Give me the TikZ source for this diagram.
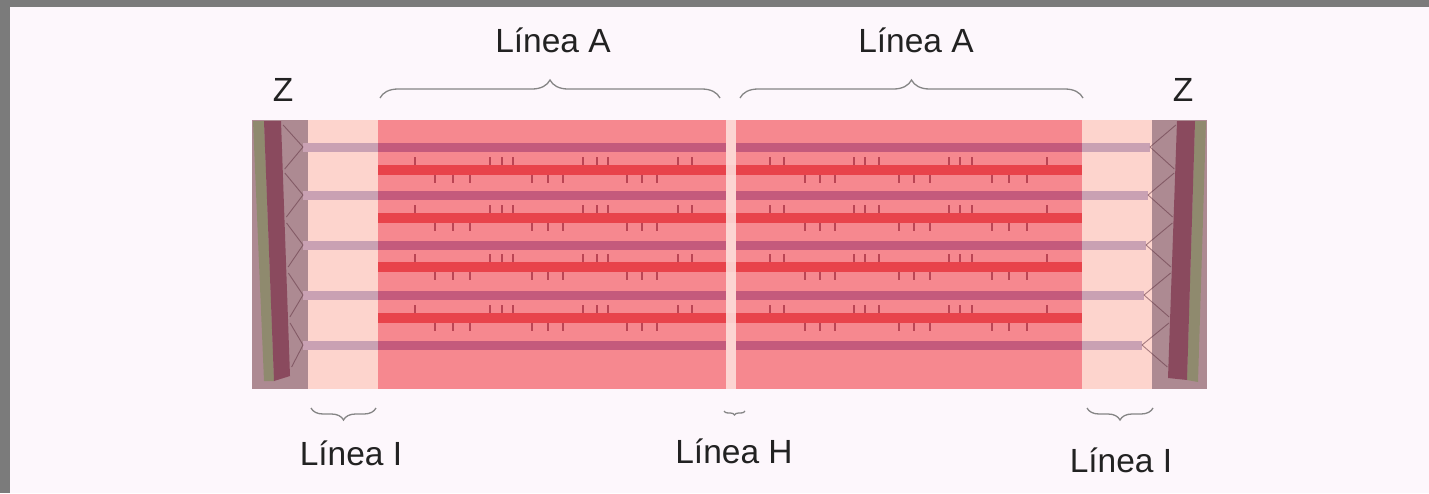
\documentclass[tikz,border=0pt]{standalone}
\usepackage{fontspec}
\setmainfont{Liberation Sans}
\usetikzlibrary{decorations.pathreplacing}

\definecolor{bgpink}{HTML}{FDF7FC}
\definecolor{framegray}{HTML}{7B7B7B}
\definecolor{zregion}{HTML}{AD8A92}
\definecolor{zolive}{HTML}{8F8A6E}
\definecolor{zbar}{HTML}{8A4A5E}
\definecolor{ibandc}{HTML}{FDD4CD}
\definecolor{abandc}{HTML}{F6888F}
\definecolor{myosin}{HTML}{E8434B}
\definecolor{actinA}{HTML}{C45A7C}
\definecolor{actinI}{HTML}{C9A1B3}
\definecolor{hzonec}{HTML}{FDE0DC}
\definecolor{headc}{HTML}{B03A4A}
\definecolor{bracec}{HTML}{858585}
\definecolor{textc}{HTML}{222222}

\begin{document}
\begin{tikzpicture}[x=1pt,y=-1pt,
  lbl/.style={font=\fontsize{33.5}{38}\selectfont, text=textc, inner sep=0pt, anchor=base},
  bracetop/.style={draw=bracec, line width=1.3pt,
    decorate, decoration={brace, amplitude=#1}},
  bracebot/.style={draw=bracec, line width=1.3pt,
    decorate, decoration={brace, mirror, amplitude=#1}},
  head/.style={draw=headc, line width=1.8pt, opacity=0.85},
  zlink/.style={draw=zbar!70!black, line width=0.9pt, opacity=0.55}]

\useasboundingbox (0,0) rectangle (1429,493);
\fill[bgpink] (0,0) rectangle (1429,493);
\fill[framegray] (0,0) rectangle (10,493);
\fill[framegray] (0,0) rectangle (1429,7);

% bands of the sarcomere
\fill[zregion] (252,120) rectangle (308,389);
\fill[zregion] (1152,120) rectangle (1207,389);
\fill[ibandc] (308,120) rectangle (378,389);
\fill[ibandc] (1082,120) rectangle (1152,389);
\fill[abandc] (378,120) rectangle (1082,389);

% thin (actin) filaments
\foreach \y/\e in {147/1150,195/1148,245/1146,295/1144,345/1142} {
  \fill[actinI] (303,\y-4.5) rectangle (378,\y+4.5);
  \fill[actinA] (378,\y-4.5) rectangle (726,\y+4.5);
  \fill[actinA] (736,\y-4.5) rectangle (1082,\y+4.5);
  \fill[actinI] (1082,\y-4.5) rectangle (\e,\y+4.5);
  % links into the Z discs
  \draw[zlink] (303,\y) -- ({283+0.035*(\y-22-121)},\y-22);
  \draw[zlink] (303,\y) -- ({283+0.035*(\y+22-121)},\y+22);
  \draw[zlink] (\e,\y) -- ({1176-0.035*(\y-22-121)},\y-22);
  \draw[zlink] (\e,\y) -- ({1176-0.035*(\y+22-121)},\y+22);
}

% thick (myosin) filaments with their heads
\foreach \y in {170,218,267,318} {
  \fill[myosin] (378,\y-5) rectangle (1082,\y+5);
  \foreach \x in {415,490,502,513,583,597,608,678,692} {
    \draw[head] (\x,\y-13) -- (\x,\y-5);
    \draw[head] (1462-\x,\y-13) -- (1462-\x,\y-5);
  }
  \foreach \x in {435,453,470,532,548,563,627,642,657} {
    \draw[head] (\x,\y+5) -- (\x,\y+13);
    \draw[head] (1462-\x,\y+5) -- (1462-\x,\y+13);
  }
}

% H zone
\fill[hzonec, opacity=0.88] (726,120) rectangle (736,389);

% Z discs
\fill[zolive] (253,121) -- (264,121) -- (274,381) -- (264,381) -- cycle;
\fill[zbar] (264,121) -- (281,121) -- (290,376) -- (274,381) -- cycle;
\fill[zolive] (1195,121) -- (1206,121) -- (1198,382) -- (1187,380) -- cycle;
\fill[zbar] (1177,121) -- (1195,121) -- (1187,380) -- (1168,378) -- cycle;

% labels
\node[lbl] (zl) at (283,101) {Z};
\node[lbl] (zr) at (1183,101) {Z};
\node[lbl] (al) at (553,52) {Línea A};
\node[lbl] (ar) at (916,52) {Línea A};
\node[lbl] (il) at (351,465) {Línea I};
\node[lbl] (hl) at (734,463) {Línea H};
\node[lbl] (ir) at (1121,472) {Línea I};

% braces
\coordinate (a1s) at (380,98);
\coordinate (a1e) at (720,98);
\coordinate (a2s) at (740,98);
\coordinate (a2e) at (1083,98);
\coordinate (i1s) at (311,408);
\coordinate (i1e) at (376,408);
\coordinate (hs) at (724,411);
\coordinate (he) at (745,411);
\coordinate (i2s) at (1087,408);
\coordinate (i2e) at (1153,408);
\draw[bracetop=18pt] (a1s) -- (a1e);
\draw[bracetop=18pt] (a2s) -- (a2e);
\draw[bracebot=12pt] (i1s) -- (i1e);
\draw[bracebot=4pt] (hs) -- (he);
\draw[bracebot=12pt] (i2s) -- (i2e);
\end{tikzpicture}
\end{document}
